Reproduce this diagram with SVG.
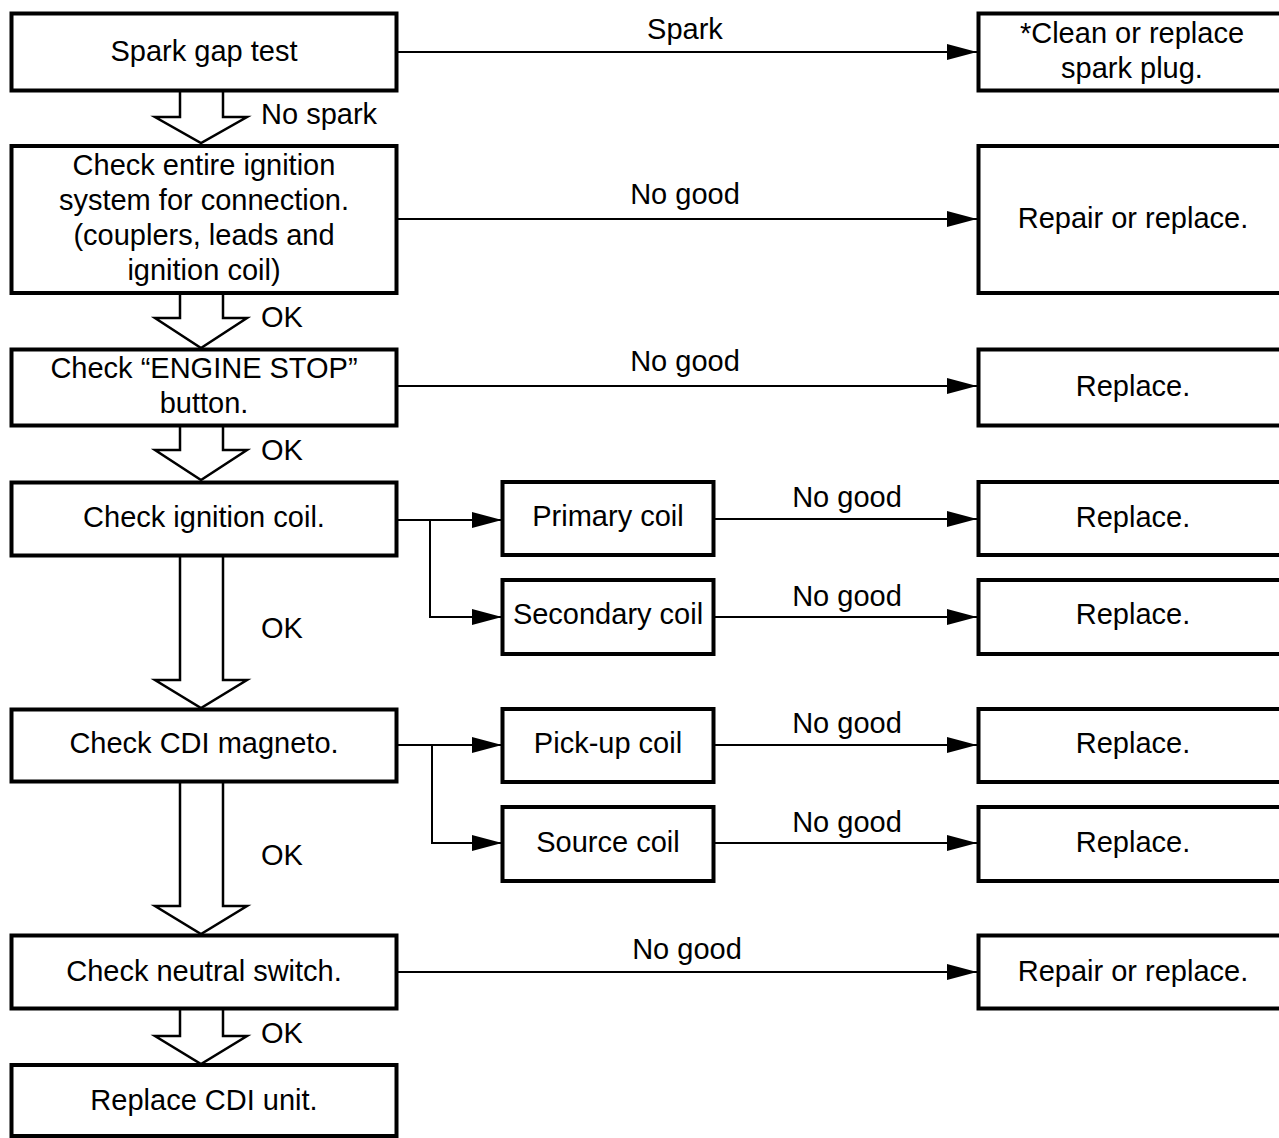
<svg xmlns="http://www.w3.org/2000/svg" width="1279" height="1138" viewBox="0 0 1279 1138">
<defs>
<marker id="ah" markerUnits="userSpaceOnUse" markerWidth="32" markerHeight="18" refX="30" refY="8" orient="auto">
<path d="M0,0 L30,8 L0,16 Z" fill="#000"/>
</marker>
<style>
.box{fill:#fff;stroke:#000;stroke-width:4}
.t{font-family:"Liberation Sans",Arial,Helvetica,sans-serif;font-size:29px;fill:#000;text-anchor:middle}
.l{font-family:"Liberation Sans",Arial,Helvetica,sans-serif;font-size:29px;fill:#000}
.c{fill:none;stroke:#000;stroke-width:2}
.h{fill:#fff;stroke:#000;stroke-width:2.5;stroke-linejoin:miter}
</style>
</defs>
<rect width="1279" height="1138" fill="#fff"/>

<g id="connectors">
<path class="c" d="M397,52 H977" marker-end="url(#ah)"/>
<path class="c" d="M397,219 H977" marker-end="url(#ah)"/>
<path class="c" d="M397,386 H977" marker-end="url(#ah)"/>
<path class="c" d="M397,520 H502" marker-end="url(#ah)"/>
<path class="c" d="M430,520 V617 H502" marker-end="url(#ah)"/>
<path class="c" d="M714,519 H977" marker-end="url(#ah)"/>
<path class="c" d="M714,617 H977" marker-end="url(#ah)"/>
<path class="c" d="M397,745 H502" marker-end="url(#ah)"/>
<path class="c" d="M432,745 V843 H502" marker-end="url(#ah)"/>
<path class="c" d="M714,745 H977" marker-end="url(#ah)"/>
<path class="c" d="M714,843 H977" marker-end="url(#ah)"/>
<path class="c" d="M397,972 H977" marker-end="url(#ah)"/>
<polyline class="h" points="180,92 180,117 155,117 201,143 247,117 223,117 223,92"/>
<polyline class="h" points="180,294 180,318 155,318 201,348 247,318 223,318 223,294"/>
<polyline class="h" points="180,426 180,450 155,450 201,480 247,450 223,450 223,426"/>
<polyline class="h" points="180,556 180,680 155,680 201,708 247,680 223,680 223,556"/>
<polyline class="h" points="180,782 180,906 155,906 201,934 247,906 223,906 223,782"/>
<polyline class="h" points="180,1009 180,1036 155,1036 201,1064 247,1036 223,1036 223,1009"/>
<text class="t" x="685" y="39">Spark</text>
<text class="t" x="685" y="204">No good</text>
<text class="t" x="685" y="371">No good</text>
<text class="t" x="847" y="507">No good</text>
<text class="t" x="847" y="606">No good</text>
<text class="t" x="847" y="733">No good</text>
<text class="t" x="847" y="832">No good</text>
<text class="t" x="687" y="959">No good</text>
<text class="l" x="261" y="124">No spark</text>
<text class="l" x="261" y="327">OK</text>
<text class="l" x="261" y="460">OK</text>
<text class="l" x="261" y="638">OK</text>
<text class="l" x="261" y="865">OK</text>
<text class="l" x="261" y="1043">OK</text>
</g>

<g id="n1"><rect class="box" x="11.5" y="13.5" width="385" height="77"/><text class="t" x="204" y="61">Spark gap test</text></g>
<g id="n2"><rect class="box" x="11.5" y="146" width="385" height="147"/>
<text class="t" x="204" y="175">Check entire ignition</text>
<text class="t" x="204" y="210">system for connection.</text>
<text class="t" x="204" y="245">(couplers, leads and</text>
<text class="t" x="204" y="280">ignition coil)</text></g>
<g id="n3"><rect class="box" x="11.5" y="349.5" width="385" height="76"/>
<text class="t" x="204" y="378">Check “ENGINE STOP”</text>
<text class="t" x="204" y="413">button.</text></g>
<g id="n4"><rect class="box" x="11.5" y="482.5" width="385" height="73"/><text class="t" x="204" y="527">Check ignition coil.</text></g>
<g id="n5"><rect class="box" x="11.5" y="709.5" width="385" height="72"/><text class="t" x="204" y="753">Check CDI magneto.</text></g>
<g id="n6"><rect class="box" x="11.5" y="935.5" width="385" height="73"/><text class="t" x="204" y="981">Check neutral switch.</text></g>
<g id="n7"><rect class="box" x="11.5" y="1065" width="385" height="71"/><text class="t" x="204" y="1110">Replace CDI unit.</text></g>

<g id="m1"><rect class="box" x="502.5" y="482" width="211" height="73"/><text class="t" x="608" y="526">Primary coil</text></g>
<g id="m2"><rect class="box" x="502.5" y="580" width="211" height="74"/><text class="t" x="608" y="624">Secondary coil</text></g>
<g id="m3"><rect class="box" x="502.5" y="709" width="211" height="73"/><text class="t" x="608" y="753">Pick-up coil</text></g>
<g id="m4"><rect class="box" x="502.5" y="807" width="211" height="74"/><text class="t" x="608" y="852">Source coil</text></g>

<g id="r1"><rect class="box" x="978.5" y="13.5" width="320" height="77"/>
<text class="t" x="1132" y="43">*Clean or replace</text>
<text class="t" x="1132" y="78">spark plug.</text></g>
<g id="r2"><rect class="box" x="978.5" y="146" width="320" height="147"/><text class="t" x="1133" y="228">Repair or replace.</text></g>
<g id="r3"><rect class="box" x="978.5" y="349.5" width="320" height="76"/><text class="t" x="1133" y="396">Replace.</text></g>
<g id="r4"><rect class="box" x="978.5" y="482" width="320" height="73"/><text class="t" x="1133" y="527">Replace.</text></g>
<g id="r5"><rect class="box" x="978.5" y="580" width="320" height="74"/><text class="t" x="1133" y="624">Replace.</text></g>
<g id="r6"><rect class="box" x="978.5" y="709" width="320" height="73"/><text class="t" x="1133" y="753">Replace.</text></g>
<g id="r7"><rect class="box" x="978.5" y="807" width="320" height="74"/><text class="t" x="1133" y="852">Replace.</text></g>
<g id="r8"><rect class="box" x="978.5" y="935.5" width="320" height="73"/><text class="t" x="1133" y="981">Repair or replace.</text></g>
</svg>
